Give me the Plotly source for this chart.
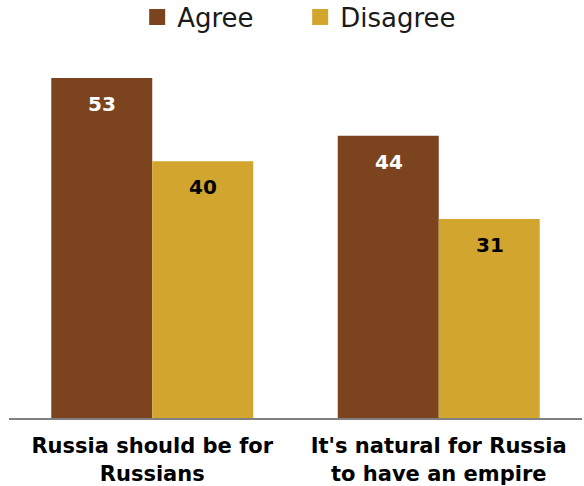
import plotly.graph_objects as go

categories = ["Russia should be for<br>Russians", "It's natural for Russia<br>to have an empire"]
series_names = ["Agree", "Disagree"]
agree = [53, 44]
disagree = [40, 31]

brown = "#7C431F"
gold = "#D2A52F"
colors = [brown, gold]

fig = go.Figure()
for name, vals, col in zip(series_names, [agree, disagree], colors):
    fig.add_trace(go.Bar(name=name, x=categories, y=vals, showlegend=False,
                         marker=dict(color=col, line=dict(width=0))))
# legend entries with larger square symbols
for name, col in zip(series_names, colors):
    fig.add_trace(go.Scatter(name=name, x=[None], y=[None], mode="markers",
                             marker=dict(symbol="square", size=16, color=col)))

annotations = []
for i, c in enumerate(categories):
    annotations.append(dict(x=c, y=agree[i], xref="x", yref="y", text=f"<b>{agree[i]}</b>",
                            showarrow=False, xshift=-50, yshift=-26,
                            font=dict(family="DejaVu Sans", size=20, color="white")))
    annotations.append(dict(x=c, y=disagree[i], xref="x", yref="y", text=f"<b>{disagree[i]}</b>",
                            showarrow=False, xshift=51, yshift=-26,
                            font=dict(family="DejaVu Sans", size=20, color="black")))

fig.update_layout(
    width=584, height=486,
    margin=dict(l=9, r=2, t=33, b=68, autoexpand=False),
    barmode="group", bargap=0.295, bargroupgap=0,
    plot_bgcolor="white", paper_bgcolor="white",
    font=dict(family="DejaVu Sans", color="black"),
    legend=dict(orientation="h", xref="container", yref="container",
                x=0.514, xanchor="center", y=1 - 17 / 486, yanchor="middle",
                font=dict(size=26, family="DejaVu Sans", color="#1a1a1a"),
                itemwidth=30, entrywidth=118, bgcolor="rgba(0,0,0,0)"),
    annotations=annotations,
    showlegend=True,
)
fig.update_xaxes(showline=True, linecolor="#808080", linewidth=2, ticks="",
                 automargin=False, ticklabelstandoff=8,
                 tickfont=dict(family="DejaVu Sans", size=21, color="black"),
                 tickprefix="<b>", ticksuffix="</b>")
fig.update_yaxes(range=[0, 60], visible=False, showgrid=False)

fig.write_html(
    "out.html",
    config={"displayModeBar": False},
    post_script="document.body.style.margin='0';document.body.style.overflow='hidden';",
)
